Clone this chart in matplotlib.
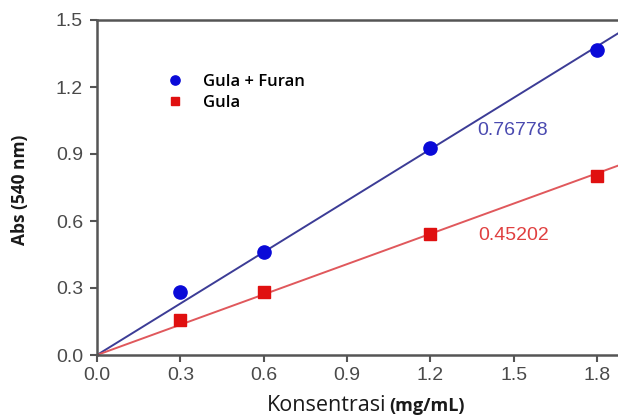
import matplotlib
matplotlib.use("Agg")
import matplotlib.pyplot as plt
import numpy as np

conc = [0.3, 0.6, 1.2, 1.8]
gula_furan = [0.283, 0.462, 0.927, 1.367]
gula = [0.157, 0.282, 0.543, 0.800]
slope_gula_furan = 0.76778
slope_gula = 0.45202
xticks = [0.0, 0.3, 0.6, 0.9, 1.2, 1.5, 1.8]
yticks = [0.0, 0.3, 0.6, 0.9, 1.2, 1.5]

W, H = 618, 416
fig = plt.figure(figsize=(W / 100, H / 100), dpi=100)
ax = fig.add_axes([97 / W, 1 - 355 / H, 1 - 97 / W, (355 - 20) / H])

xmax = 1.8 + (618 - 597) / (597 - 97) * 1.8
ax.set_xlim(0, xmax)
ax.set_ylim(0, 1.5)

xl = np.array([0, xmax])
ax.plot(xl, slope_gula_furan * xl, color="#3c3c96", lw=1.4, zorder=2)
ax.plot(xl, slope_gula * xl, color="#e0585c", lw=1.4, zorder=2)
ax.plot(conc, gula_furan, "o", color="#0a0ad8", ms=9.5, zorder=3, label="Gula + Furan")
ax.plot(conc, gula, "s", color="#e01010", ms=8, zorder=3, label="Gula")

ax.text(1.368, 1.003, f"{slope_gula_furan:.5f}", color="#4a4ab0", fontsize=14,
        family="Liberation Sans", va="center", ha="left")
ax.text(1.371, 0.533, f"{slope_gula:.5f}", color="#e04040", fontsize=14,
        family="Liberation Sans", va="center", ha="left")

for s in ["left", "bottom", "top"]:
    ax.spines[s].set_color("#555555")
    ax.spines[s].set_linewidth(1.8)
ax.spines["right"].set_visible(False)

ax.set_xticks(xticks)
ax.set_yticks(yticks)
ax.set_xticklabels([f"{v:.1f}" for v in xticks])
ax.set_yticklabels([f"{v:.1f}" for v in yticks])
ax.tick_params(axis="both", direction="out", length=5, width=1.5, color="#555555",
               labelsize=14, labelcolor="#4a4a4a")
ax.tick_params(axis="x", pad=4)
ax.tick_params(axis="y", pad=5)
for lab in ax.get_xticklabels() + ax.get_yticklabels():
    lab.set_family("Liberation Sans")

leg = ax.legend(loc="upper left", bbox_to_anchor=(0.137, 0.84), frameon=False,
                handletextpad=1.3, labelspacing=0.3, borderaxespad=0,
                markerscale=0.7, borderpad=0,
                prop={"family": "Open Sans", "size": 12, "weight": "semibold"},
                handlelength=0.8)

fig.text(20 / W, 1 - 190 / H, "Abs (540 nm)", rotation=90, ha="center", va="center",
         fontsize=12.5, fontweight="bold", family="Open Sans", color="#1a1a1a")
fig.text(386 / W, 1 - 411 / H, "Konsentrasi", ha="right", va="baseline",
         fontsize=15.5, family="Open Sans", color="#1a1a1a")
fig.text(389 / W, 1 - 411 / H, "(mg/mL)", ha="left", va="baseline",
         fontsize=13, fontweight="bold", family="Open Sans", color="#1a1a1a")

fig.savefig("out.png", dpi=100)
